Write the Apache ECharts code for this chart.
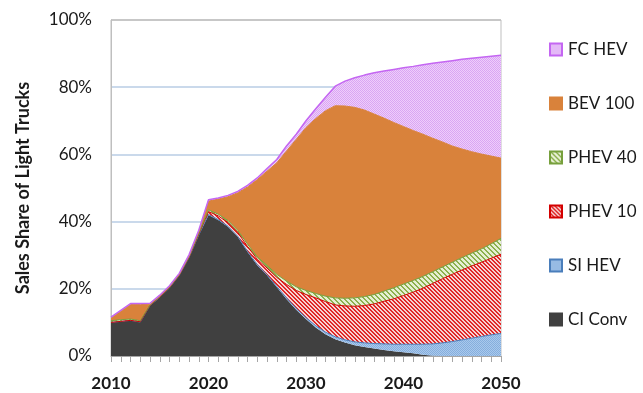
<!DOCTYPE html>
<html>
<head>
<meta charset="utf-8">
<script src="https://cdn.jsdelivr.net/npm/echarts@6/dist/echarts.min.js"></script>
<style>
html, body { margin: 0; padding: 0; background: #fff; }
#chart { width: 643px; height: 393px; }
</style>
</head>
<body>
<div id="chart"></div>
<script>
var myChart = echarts.init(document.getElementById('chart'));

// data, share of sales in %
const years = ['2010','2011','2012','2013','2014','2015','2016','2017','2018','2019',
    '2020','2021','2022','2023','2024','2025','2026','2027','2028','2029',
    '2030','2031','2032','2033','2034','2035','2036','2037','2038','2039',
    '2040','2041','2042','2043','2044','2045','2046','2047','2048','2049','2050'];

const ciConv = [10,10.3,10.6,10.1,15,17.5,20.3,24,29.3,36,
    42,40.5,38.5,35.5,31,27,24,20.5,17,13.8,
    11,8.5,6.5,5,4,3.2,2.7,2.2,1.8,1.4,
    1.1,0.8,0.4,0.1,0,0,0,0,0,0,0];
const siHev = [0,0,0,0,0,0,0,0,0,0,
    0.1,0.1,0.1,0.1,0.1,0.2,0.2,0.2,0.3,0.3,
    0.4,0.5,0.6,0.7,0.8,1.0,1.2,1.5,1.8,2.1,
    2.4,2.7,3.1,3.5,3.9,4.3,4.8,5.3,5.8,6.3,6.7];
const phev10 = [0,0,0,0.1,0.1,0.1,0.1,0.1,0.1,0.3,
    0.9,1.1,1.1,1.2,1.5,1.6,2.0,2.7,4.0,5.4,
    6.9,8.3,9.1,9.5,10.1,10.6,11.1,11.8,12.7,13.5,
    14.5,15.5,16.7,18.0,19.1,20.0,20.8,21.5,22.1,22.8,23.6];
const phev40 = [0.5,0.5,0.4,0.3,0.1,0.1,0.1,0.1,0.1,0.2,
    0.5,0.5,0.6,0.6,0.7,0.7,0.8,0.9,1.0,1.1,
    1.2,1.3,1.6,2.1,2.3,2.5,2.7,2.8,3.0,3.3,
    3.4,3.5,3.5,3.5,3.5,3.6,3.7,3.8,4.0,4.3,4.7];
const bev100 = [0.8,2.5,4.3,4.8,0.2,0.1,0.1,0.1,0.3,0.5,
    2.6,4.5,7.1,11.2,17.0,23.0,28.0,33.2,38.7,43.9,
    48.5,52.1,55.2,57.2,57.2,56.7,55.5,53.7,51.5,49.2,
    46.9,44.6,42.3,39.7,37.2,34.6,32.3,30.2,28.2,26.1,23.9];
const fcHev = [0.3,0.3,0.3,0.3,0.3,0.3,0.3,0.3,0.3,0.4,
    0.4,0.3,0.4,0.4,0.5,0.5,0.8,1.0,1.5,1.5,
    2.0,2.9,4.0,5.8,7.4,8.8,10.4,12.3,14.0,15.8,
    17.5,19.1,20.7,22.3,23.8,25.4,26.7,27.8,28.8,29.7,30.6];

const legendNames = ['FC HEV', 'BEV 100', 'PHEV 40', 'PHEV 10', 'SI HEV', 'CI Conv'];

const font = 'Lato, "Open Sans", sans-serif';

// small tiles for the hatch / dot fills
const stripeTile = (size, on, fg, bg) => {
    const c = document.createElement('canvas');
    c.width = size; c.height = size;
    const ctx = c.getContext('2d');
    for (let y = 0; y < size; y++) {
        for (let x = 0; x < size; x++) {
            ctx.fillStyle = ((x - y + size * 4) % size) < on ? fg : bg;
            ctx.fillRect(x, y, 1, 1);
        }
    }
    return { image: c, repeat: 'repeat' };
}

const dotTile = (fg, bg) => {
    const c = document.createElement('canvas');
    c.width = 2; c.height = 2;
    const ctx = c.getContext('2d');
    ctx.fillStyle = bg;
    ctx.fillRect(0, 0, 2, 2);
    ctx.fillStyle = fg;
    ctx.fillRect(0, 0, 1, 1);
    ctx.fillRect(1, 1, 1, 1);
    return { image: c, repeat: 'repeat' };
}

const fcFill = dotTile('#D9A6F3', '#EFCDFB');
const siFill = dotTile('#86AEDD', '#A9C9EC');
const redFill = stripeTile(4, 2, '#E02828', '#F6D2D2');
const greenFill = stripeTile(5, 2, '#8CB14E', '#E6EFD3');

const makeSeries = (name, data, fill, line, width) => {
    return {
        name: name,
        type: 'line',
        stack: 'Total',
        data: data,
        symbol: 'none',
        showSymbol: false,
        lineStyle: { color: line, width: width },
        itemStyle: { color: fill, borderColor: line, borderWidth: 1 },
        areaStyle: { color: fill, opacity: 1 },
        emphasis: { disabled: true }
    };
}

option = {
    animation: false,
    backgroundColor: '#fff',
    legend: {
        data: legendNames,
        orient: 'vertical',
        left: 544,
        top: 36,
        itemGap: 37,
        itemWidth: 12,
        itemHeight: 12,
        icon: 'rect',
        textStyle: { fontFamily: font, fontSize: 17, color: '#1a1a1a', padding: [0, 0, 0, 1] }
    },
    grid: {
        left: 111,
        right: 142,
        top: 20,
        bottom: 37,
        show: true,
        borderColor: '#BFBFBF',
        borderWidth: 1
    },
    xAxis: {
        type: 'category',
        boundaryGap: false,
        data: years,
        axisLine: { lineStyle: { color: '#A6A6A6', width: 1 } },
        axisTick: {
            show: true,
            interval: 0,
            length: 6,
            lineStyle: { color: '#A6A6A6' }
        },
        axisLabel: {
            interval: (idx) => idx % 10 === 0,
            margin: 19,
            fontFamily: font,
            fontSize: 17,
            fontWeight: 'bold',
            color: '#1a1a1a'
        },
        splitLine: { show: false }
    },
    yAxis: {
        type: 'value',
        min: 0,
        max: 100,
        interval: 20,
        name: 'Sales Share of Light Trucks',
        nameLocation: 'middle',
        nameGap: 79,
        nameTextStyle: { fontFamily: font, fontSize: 18, fontWeight: 'bold', color: '#1a1a1a' },
        axisLine: { show: true, lineStyle: { color: '#BFBFBF' } },
        axisTick: { show: false },
        axisLabel: {
            formatter: '{value}%',
            margin: 19,
            fontFamily: font,
            fontSize: 17,
            color: '#1a1a1a'
        },
        splitLine: {
            show: true,
            lineStyle: { color: ['#BFBFBF', '#B9CDE5', '#B9CDE5', '#B9CDE5', '#B9CDE5', '#BFBFBF'], width: 1.5 }
        }
    },
    series: [
        makeSeries('CI Conv', ciConv, '#404040', '#404040', 0),
        makeSeries('SI HEV', siHev, siFill, '#4A7EBB', 1),
        makeSeries('PHEV 10', phev10, redFill, '#D40000', 1),
        makeSeries('PHEV 40', phev40, greenFill, '#77A03C', 1),
        makeSeries('BEV 100', bev100, '#D9823B', '#D9823B', 1),
        makeSeries('FC HEV', fcHev, fcFill, '#C466F2', 1.5)
    ]
}

myChart.setOption(option);
</script>
</body>
</html>
